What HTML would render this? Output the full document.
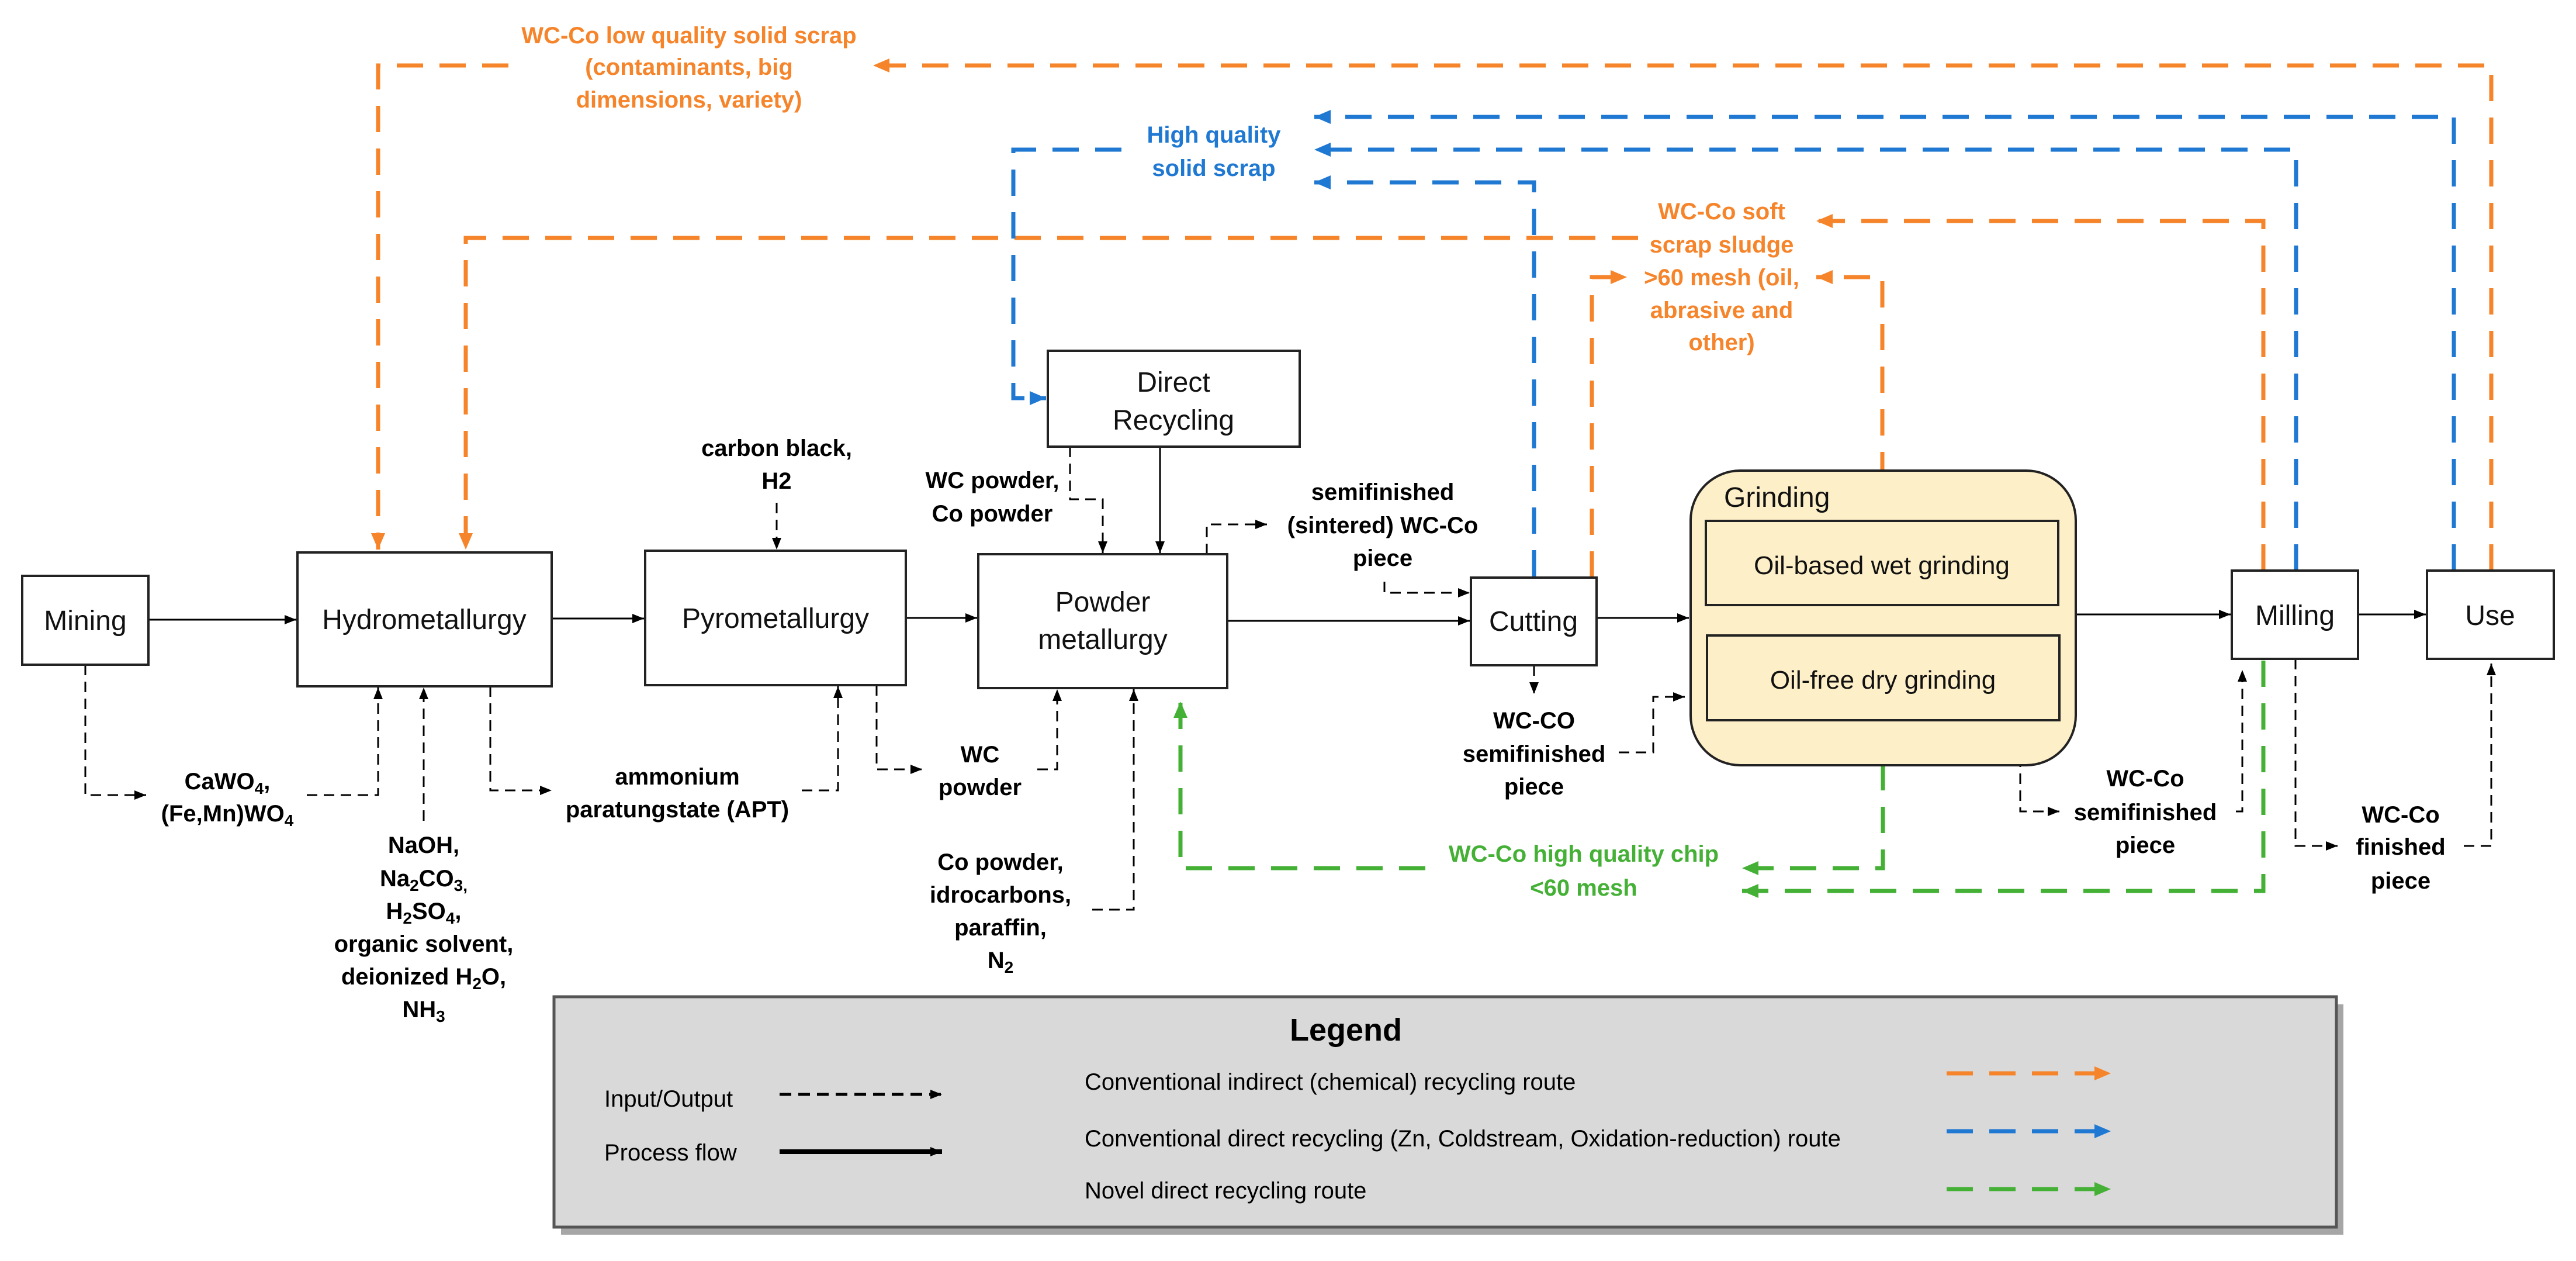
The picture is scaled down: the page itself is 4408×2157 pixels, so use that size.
<!DOCTYPE html>
<html><head><meta charset="utf-8"><style>
html,body{margin:0;padding:0;background:#fff}
svg{display:block}
text{font-family:"Liberation Sans",Arial,sans-serif}
.b{font-weight:bold;font-size:40px}
.n{font-size:48px}
</style></head><body>
<svg width="4408" height="2157" viewBox="0 0 4408 2157" xmlns="http://www.w3.org/2000/svg">
<defs>
<marker id="ak" markerUnits="userSpaceOnUse" markerWidth="24" markerHeight="24" refX="20" refY="10" orient="auto"><path d="M0,2 L20,10 L0,18 z" fill="#000"/></marker>
<marker id="ao" markerUnits="userSpaceOnUse" markerWidth="34" markerHeight="34" refX="28" refY="14" orient="auto"><path d="M0,2 L28,14 L0,26 z" fill="#f5842a"/></marker>
<marker id="ab" markerUnits="userSpaceOnUse" markerWidth="34" markerHeight="34" refX="28" refY="14" orient="auto"><path d="M0,2 L28,14 L0,26 z" fill="#1f78d1"/></marker>
<marker id="ag" markerUnits="userSpaceOnUse" markerWidth="34" markerHeight="34" refX="28" refY="14" orient="auto"><path d="M0,2 L28,14 L0,26 z" fill="#44b035"/></marker>
</defs>
<g fill="none">
<!-- orange -->
<g stroke="#f5842a" stroke-width="7" stroke-dasharray="45 28">
<path d="M870,112 H647 V940" marker-end="url(#ao)"/>
<path d="M4263,976 V112 H1494" marker-end="url(#ao)"/>
<path d="M2803,407 H797 V940" marker-end="url(#ao)"/>
<path d="M3873,976 V378 H3108" marker-end="url(#ao)"/>
<path d="M2724,988 V474 H2784" marker-end="url(#ao)"/>
<path d="M3221,891 V474 H3108" marker-end="url(#ao)"/>
</g>
<!-- blue -->
<g stroke="#1f78d1" stroke-width="7" stroke-dasharray="45 28">
<path d="M1919,256 H1734 V681 H1790" marker-end="url(#ab)"/>
<path d="M4199,976 V200 H2249" marker-end="url(#ab)"/>
<path d="M3929,976 V256 H2249" marker-end="url(#ab)"/>
<path d="M2625,986 V312 H2249" marker-end="url(#ab)"/>
</g>
<!-- green -->
<g stroke="#44b035" stroke-width="7" stroke-dasharray="45 28">
<path d="M2439,1485 H2020 V1200" marker-end="url(#ag)"/>
<path d="M3222,1234 V1485 H2981" marker-end="url(#ag)"/>
<path d="M3873,1130 V1524 H2981" marker-end="url(#ag)"/>
</g>
<!-- solid process -->
<g stroke="#000" stroke-width="3">
<path d="M254,1060 H507" marker-end="url(#ak)"/>
<path d="M944,1058 H1102" marker-end="url(#ak)"/>
<path d="M1550,1057 H1672" marker-end="url(#ak)"/>
<path d="M2100,1062 H2515" marker-end="url(#ak)"/>
<path d="M2732,1057 H2890" marker-end="url(#ak)"/>
<path d="M3552,1051 H3817" marker-end="url(#ak)"/>
<path d="M4035,1051 H4151" marker-end="url(#ak)"/>
<path d="M1985,764 V946" marker-end="url(#ak)"/>
</g>
<!-- dashed io -->
<g stroke="#000" stroke-width="3" stroke-dasharray="18 11">
<path d="M146,1137 V1360 H250" marker-end="url(#ak)"/>
<path d="M525,1360 H647 V1176" marker-end="url(#ak)"/>
<path d="M725,1404 V1176" marker-end="url(#ak)"/>
<path d="M839,1174 V1352 H944" marker-end="url(#ak)"/>
<path d="M1372,1352 H1434 V1174" marker-end="url(#ak)"/>
<path d="M1329,860 V940" marker-end="url(#ak)"/>
<path d="M1500,1172 V1316 H1578" marker-end="url(#ak)"/>
<path d="M1775,1316 H1809 V1179" marker-end="url(#ak)"/>
<path d="M1869,1556 H1940 V1179" marker-end="url(#ak)"/>
<path d="M1831,764 V854 H1887 V946" marker-end="url(#ak)"/>
<path d="M2065,948 V897 H2168" marker-end="url(#ak)"/>
<path d="M2369,995 V1014 H2515" marker-end="url(#ak)"/>
<path d="M2625,1138 V1187" marker-end="url(#ak)"/>
<path d="M2770,1287 H2829 V1192 H2883" marker-end="url(#ak)"/>
<path d="M3457,1236 V1388 H3524" marker-end="url(#ak)"/>
<path d="M3826,1388 H3837 V1146" marker-end="url(#ak)"/>
<path d="M3928,1127 V1447 H4000" marker-end="url(#ak)"/>
<path d="M4216,1447 H4263 V1135" marker-end="url(#ak)"/>
</g>
</g>
<!-- boxes -->
<g fill="#fff" stroke="#222" stroke-width="4">
<rect x="38" y="985" width="216" height="152"/>
<rect x="509" y="945" width="435" height="229"/>
<rect x="1104" y="942" width="446" height="230"/>
<rect x="1674" y="948" width="426" height="229"/>
<rect x="1793" y="600" width="431" height="164"/>
<rect x="2517" y="988" width="215" height="150"/>
<rect x="3819" y="976" width="216" height="151"/>
<rect x="4153" y="976" width="217" height="151"/>
<rect x="2893" y="805" width="659" height="504" rx="85" fill="#fdefc8"/>
<rect x="2919" y="891" width="603" height="144" fill="#fdefc8"/>
<rect x="2921" y="1087" width="603" height="145" fill="#fdefc8"/>
</g>
<g class="n" text-anchor="middle" fill="#111">
<text x="146" y="1078">Mining</text>
<text x="726" y="1076">Hydrometallurgy</text>
<text x="1327" y="1074">Pyrometallurgy</text>
<text x="1887" y="1046">Powder</text>
<text x="1887" y="1110">metallurgy</text>
<text x="2008" y="670">Direct</text>
<text x="2008" y="735">Recycling</text>
<text x="2624" y="1079">Cutting</text>
<text x="3927" y="1069">Milling</text>
<text x="4261" y="1069">Use</text>
<text x="3220" y="982" font-size="44">Oil-based wet grinding</text>
<text x="3222" y="1178" font-size="44">Oil-free dry grinding</text>
<text x="2950" y="867" text-anchor="start">Grinding</text>
</g>
<!-- labels -->
<g class="b" text-anchor="middle" fill="#f5842a">
<text x="1179" y="74">WC-Co low quality solid scrap</text>
<text x="1179" y="128">(contaminants, big</text>
<text x="1179" y="184">dimensions, variety)</text>
<text x="2946" y="375">WC-Co soft</text>
<text x="2946" y="432">scrap sludge</text>
<text x="2946" y="488">&gt;60 mesh (oil,</text>
<text x="2946" y="544">abrasive and</text>
<text x="2946" y="599">other)</text>
</g>
<g class="b" text-anchor="middle" fill="#1f78d1">
<text x="2077" y="244">High quality</text>
<text x="2077" y="301">solid scrap</text>
</g>
<g class="b" text-anchor="middle" fill="#44b035">
<text x="2710" y="1474">WC-Co high quality chip</text>
<text x="2710" y="1532">&lt;60 mesh</text>
</g>
<g class="b" text-anchor="middle" fill="#000">
<text x="1329" y="780">carbon black,</text>
<text x="1329" y="836">H2</text>
<text x="1698" y="835">WC powder,</text>
<text x="1698" y="892">Co powder</text>
<text x="2366" y="855">semifinished</text>
<text x="2366" y="912">(sintered) WC-Co</text>
<text x="2366" y="968">piece</text>
<text x="389" y="1350">CaWO<tspan font-size="28" dy="8">4</tspan><tspan dy="-8">,</tspan></text>
<text x="389" y="1405">(Fe,Mn)WO<tspan font-size="28" dy="8">4</tspan></text>
<text x="725" y="1459">NaOH,</text>
<text x="725" y="1516">Na<tspan font-size="28" dy="8">2</tspan><tspan dy="-8">CO</tspan><tspan font-size="28" dy="8">3,</tspan></text>
<text x="725" y="1572">H<tspan font-size="28" dy="8">2</tspan><tspan dy="-8">SO</tspan><tspan font-size="28" dy="8">4</tspan><tspan dy="-8">,</tspan></text>
<text x="725" y="1628">organic solvent,</text>
<text x="725" y="1684">deionized H<tspan font-size="28" dy="8">2</tspan><tspan dy="-8">O,</tspan></text>
<text x="725" y="1740">NH<tspan font-size="28" dy="8">3</tspan></text>
<text x="1159" y="1342">ammonium</text>
<text x="1159" y="1398">paratungstate (APT)</text>
<text x="1677" y="1304">WC</text>
<text x="1677" y="1360">powder</text>
<text x="1712" y="1488">Co powder,</text>
<text x="1712" y="1544">idrocarbons,</text>
<text x="1712" y="1600">paraffin,</text>
<text x="1712" y="1656">N<tspan font-size="28" dy="8">2</tspan></text>
<text x="2625" y="1246">WC-CO</text>
<text x="2625" y="1303">semifinished</text>
<text x="2625" y="1359">piece</text>
<text x="3671" y="1345">WC-Co</text>
<text x="3671" y="1403">semifinished</text>
<text x="3671" y="1459">piece</text>
<text x="4108" y="1407">WC-Co</text>
<text x="4108" y="1462">finished</text>
<text x="4108" y="1520">piece</text>
</g>
<!-- legend -->
<rect x="954" y="1710" width="3050" height="394" fill="#000" opacity="0.35" transform="translate(6,8)"/>
<rect x="948" y="1705" width="3050" height="394" fill="#d9d9d9" stroke="#555" stroke-width="5"/>
<text x="2303" y="1780" text-anchor="middle" font-weight="bold" font-size="54">Legend</text>
<text x="1034" y="1893" font-size="40">Input/Output</text>
<text x="1034" y="1985" font-size="40">Process flow</text>
<path d="M1334,1872 H1612" stroke="#000" stroke-width="5" stroke-dasharray="20 12" fill="none" marker-end="url(#ak)"/>
<path d="M1334,1970 H1612" stroke="#000" stroke-width="8" fill="none" marker-end="url(#ak)"/>
<text x="1856" y="1864" font-size="40">Conventional indirect (chemical) recycling route</text>
<text x="1856" y="1961" font-size="40">Conventional direct recycling (Zn, Coldstream, Oxidation-reduction) route</text>
<text x="1856" y="2050" font-size="40">Novel direct recycling route</text>
<path d="M3331,1836 H3612" stroke="#f5842a" stroke-width="7" stroke-dasharray="45 28" fill="none" marker-end="url(#ao)"/>
<path d="M3331,1935 H3612" stroke="#1f78d1" stroke-width="7" stroke-dasharray="45 28" fill="none" marker-end="url(#ab)"/>
<path d="M3331,2034 H3612" stroke="#44b035" stroke-width="7" stroke-dasharray="45 28" fill="none" marker-end="url(#ag)"/>
</svg>
</body></html>
